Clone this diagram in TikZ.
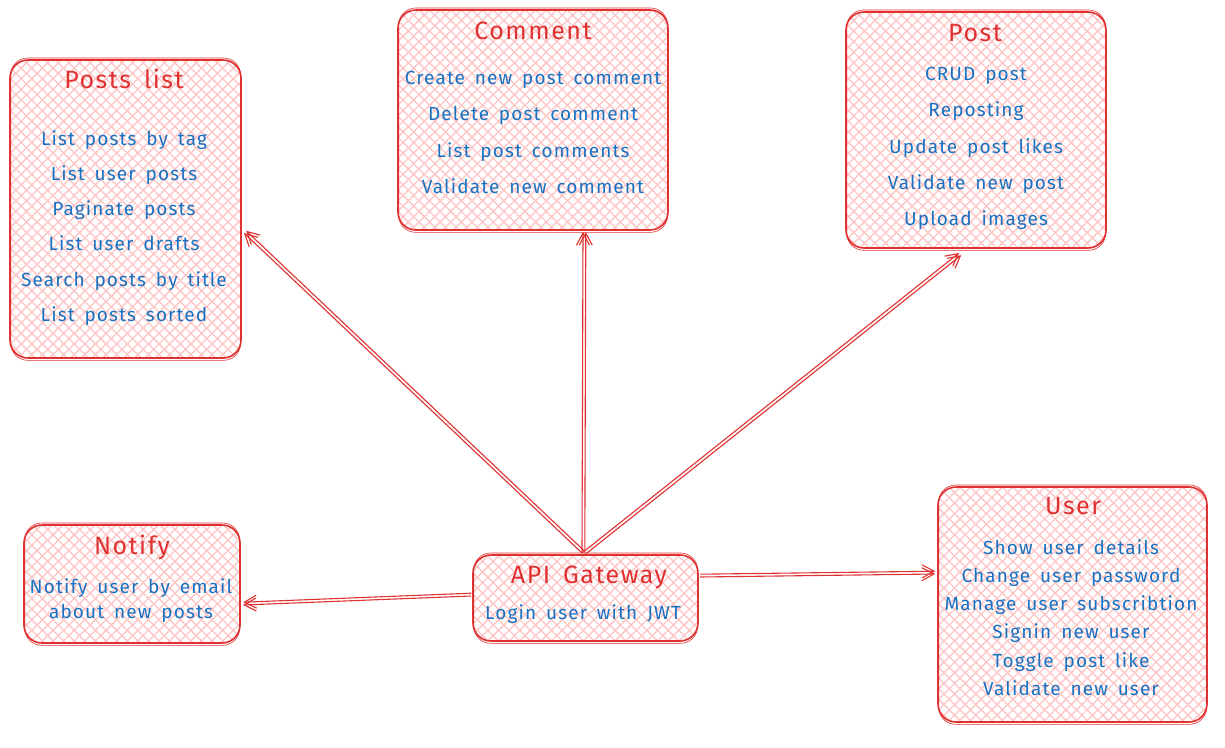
\documentclass[tikz,border=0pt]{standalone}
\usepackage{fontspec}
\setmainfont{Fira Sans}
\newfontfamily\itemfont{Fira Sans}[LetterSpace=6,WordSpace=1.4]
\newfontfamily\titlefont{Fira Sans}[LetterSpace=6,WordSpace=1.6]
\usetikzlibrary{patterns.meta,arrows.meta,calc}
\definecolor{lred}{HTML}{E03131}
\definecolor{hatch}{HTML}{FFC4C4}
\definecolor{tblue}{HTML}{1971C2}
\tikzset{
  box/.style={draw=lred, line width=1.6pt, rounded corners=18pt, inner sep=0pt,
    preaction={pattern={Lines[angle=45,distance=7.5pt,line width=1.3pt]}, pattern color=hatch},
    preaction={pattern={Lines[angle=-45,distance=7.5pt,line width=1.3pt]}, pattern color=hatch}},
  ttl/.style={text=lred, font=\titlefont\fontsize{25}{30}\selectfont, inner sep=0pt},
  itm/.style={text=tblue, align=center, inner sep=0pt},
  arr/.style={draw=lred, line width=1.1pt, -{Straight Barb[length=12pt,width=13pt,line width=1.1pt]}},
}
\newcommand{\sketchedge}[1]{%
  \draw[lred, line width=0.6pt, rounded corners=17pt] ([shift={(1.5pt,1.2pt)}]#1.north west) rectangle ([shift={(-1.2pt,-1.5pt)}]#1.south east);}
\begin{document}
\begin{tikzpicture}[x=1pt,y=-1pt]
\useasboundingbox[fill=white] (0,0) rectangle (1225,747);

% boxes
\node[box, minimum width=231pt, minimum height=298pt] (pl) at (125.5,209) {};
\node[box, minimum width=270pt, minimum height=220pt] (cm) at (533,120) {};
\node[box, minimum width=260pt, minimum height=236pt] (po) at (976,130) {};
\node[box, minimum width=216pt, minimum height=118pt] (nt) at (132,584) {};
\node[box, minimum width=225pt, minimum height=86pt] (gw) at (585.5,598) {};
\node[box, minimum width=269pt, minimum height=235pt] (us) at (1072.5,604.5) {};
\sketchedge{pl}\sketchedge{cm}\sketchedge{po}\sketchedge{nt}\sketchedge{gw}\sketchedge{us}

% titles
\node[ttl] (plt) at (124,79) {Posts list};
\node[ttl] (cmt) at (533,31) {Comment};
\node[ttl] (pot) at (975,33) {Post};
\node[ttl] (ntt) at (132,547) {Notify};
\node[ttl] (gwt) at (589,577) {API Gateway};
\node[ttl] (ust) at (1073,506) {User};

% items
\node[itm, font=\itemfont\fontsize{19}{35.2}\selectfont] (pli) at (124,228) {List posts by tag\\List user posts\\Paginate posts\\List user drafts\\Search posts by title\\List posts sorted};
\node[itm, font=\itemfont\fontsize{19}{36.3}\selectfont] (cmi) at (533,132.5) {Create new post comment\\Delete post comment\\List post comments\\Validate new comment};
\node[itm, font=\itemfont\fontsize{19}{36.25}\selectfont] (poi) at (976,148.5) {CRUD post\\Reposting\\Update post likes\\Validate new post\\Upload images};
\node[itm, font=\itemfont\fontsize{19}{25}\selectfont] (nti) at (131,600.5) {Notify user by email\\about new posts};
\node[itm, font=\itemfont\fontsize{19}{22}\selectfont] (gwi) at (583,614) {Login user with JWT};
\node[itm, font=\itemfont\fontsize{19}{28.2}\selectfont] (usi) at (1071,617.5) {Show user details\\Change user password\\Manage user subscribtion\\Signin new user\\Toggle post like\\Validate new user};

% connector end points on the boxes
\coordinate (gtop) at (582,553);
\coordinate (plend) at (244,233);
\coordinate (cmend) at (583,232);
\coordinate (poend) at (959,253);
\coordinate (gleft) at (471,596);
\coordinate (ntend) at (243,605);
\coordinate (gright) at (700,577);
\coordinate (usend) at (935,574);

\foreach \a/\b/\dx/\dy in {gtop/plend/2.2/2.2, gtop/cmend/2.8/0, gtop/poend/2.2/-2.2, gleft/ntend/0.3/2.8, gright/usend/0.3/2.8}{
  \draw[arr] (\a) -- (\b);
  \draw[arr, transform canvas={shift={(\dx pt,\dy pt)}}] (\a) -- (\b);
}
\end{tikzpicture}
\end{document}
